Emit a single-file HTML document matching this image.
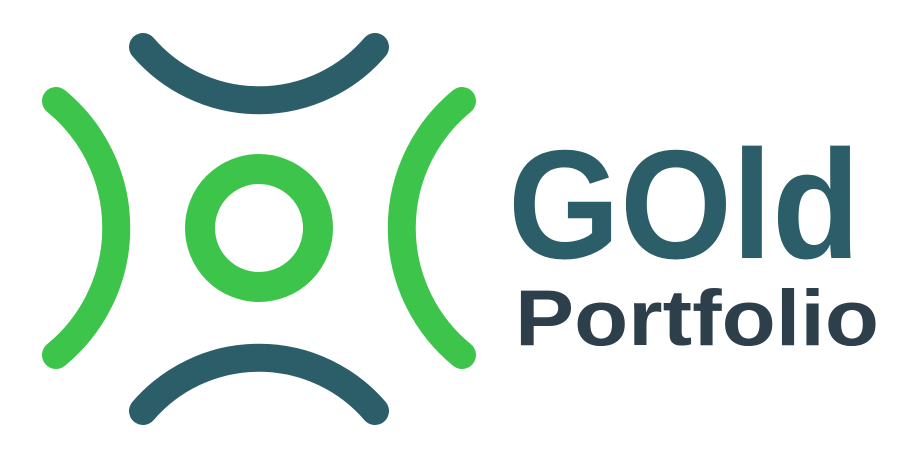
<!DOCTYPE html>
<html><head><meta charset="utf-8"><style>
html,body{margin:0;padding:0;background:#fff;width:903px;height:459px;overflow:hidden}
</style></head><body>
<svg width="903" height="459" viewBox="0 0 903 459" xmlns="http://www.w3.org/2000/svg">
  <g fill="none" stroke-linecap="round" stroke-width="28">
    <path d="M143,47 A153,153 0 0 0 375,47" stroke="#2b5e68"/>
    <path d="M143,411 A153,153 0 0 1 375,411" stroke="#2b5e68"/>
    <path d="M56,101 A164,164 0 0 1 56,355" stroke="#3dc44b"/>
    <path d="M462,101 A164,164 0 0 0 462,355" stroke="#3dc44b"/>
    <circle cx="259" cy="228" r="59" stroke="#3dc44b" stroke-width="30"/>
  </g>
  <text x="508" y="258" font-family="Liberation Sans, sans-serif" font-weight="bold" font-size="155" fill="#2b5e68" textLength="352" lengthAdjust="spacingAndGlyphs">GOld</text>
  <text x="515" y="345" font-family="Liberation Sans, sans-serif" font-weight="bold" font-size="79" fill="#2d3f4b" textLength="364" lengthAdjust="spacingAndGlyphs">Portfolio</text>
</svg>
</body></html>
